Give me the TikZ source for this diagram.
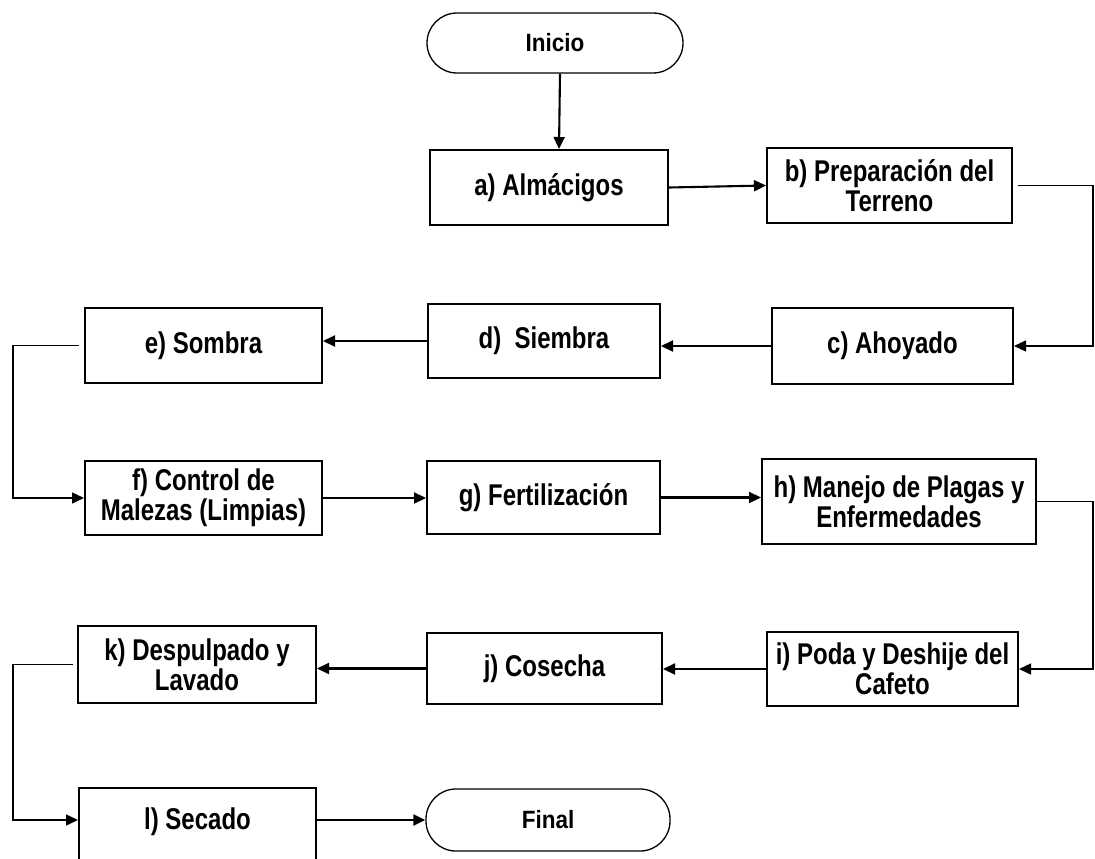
\documentclass[tikz,border=0pt]{standalone}
\usepackage{fontspec}
\setmainfont{Liberation Sans}
\newfontfamily\boxfont[FakeStretch=0.8]{Liberation Sans}
\newfontfamily\termfont[FakeStretch=0.9]{Liberation Sans}
\usetikzlibrary{arrows.meta}
\begin{document}
\begin{tikzpicture}[x=1pt,y=-1pt,
  lbl/.style={font=\boxfont\fontsize{30}{30}\selectfont\bfseries, align=center, inner sep=0pt},
  box/.style={lbl, draw, line width=2pt},
  term/.style={font=\termfont\fontsize{25}{30}\selectfont\bfseries, align=center, inner sep=0pt, draw, line width=1.3pt, rounded corners=30pt},
  conn/.style={line width=2.1pt, -{Triangle[length=12pt,width=11pt]}},
  elbow/.style={line width=1.5pt, -{Triangle[length=12pt,width=11pt]}}]
\useasboundingbox (0,0) rectangle (1095,859);
\clip (0,0) rectangle (1095,859);
\node[term, minimum width=256pt, minimum height=60pt] (start) at (555,43) {Inicio};
\node[box, minimum width=238pt, minimum height=75pt] (a) at (549,187.5) {a) Almácigos};
\node[box, minimum width=245pt, minimum height=75pt] (b) at (889.5,185.5) {b) Preparación del\\Terreno};
\node[box, minimum width=241pt, minimum height=76pt] (c) at (892.5,346) {c) Ahoyado};
\node[box, minimum width=232pt, minimum height=74pt] (d) at (544,341) {d)~ Siembra};
\node[box, minimum width=237pt, minimum height=75pt] (e) at (203.5,345.5) {e) Sombra};
\node[box, minimum width=237pt, minimum height=74pt] (f) at (203.5,498) {f) Control de\\Malezas (Limpias)};
\node[box, minimum width=233pt, minimum height=73pt] (g) at (543.5,497.5) {g) Fertilización};
\node[box, minimum width=274pt, minimum height=85pt] (h) at (899,501.5) {h) Manejo de Plagas y\\Enfermedades};
\node[box, minimum width=251pt, minimum height=74pt] (i) at (892.5,669) {i) Poda y Deshije del\\Cafeto};
\node[box, minimum width=235pt, minimum height=71pt] (j) at (544.5,668.5) {j) Cosecha};
\node[box, minimum width=238pt, minimum height=77pt] (k) at (197,664.5) {k) Despulpado y\\Lavado};
\node[box, minimum width=237pt, minimum height=82pt] (l) at (197.5,829) {};
\node[lbl] (ltext) at (197.5,822) {l) Secado};
\node[term, minimum width=244pt, minimum height=62pt] (fin) at (548,820) {Final};
\coordinate (R1) at (1093,0);
\coordinate (L1) at (13,0);
\draw[conn] ([xshift=5pt]start.south) -- ([xshift=10pt]a.north);
\draw[conn] (a.east) -- (b.west);
\draw[elbow, shorten <=5pt] (b.east) -- (b.east -| R1) -- (R1 |- c.east) -- (c.east);
\draw[conn] (c.west) -- (c.west -| d.east);
\draw[conn] (d.west) -- (d.west -| e.east);
\draw[elbow, shorten <=5pt] (e.west) -- (e.west -| L1) -- (L1 |- f.west) -- (f.west);
\draw[conn] (f.east) -- (f.east -| g.west);
\draw[conn] (g.east) -- (g.east -| h.west);
\draw[elbow] (h.east) -- (h.east -| R1) -- (R1 |- i.east) -- (i.east);
\draw[conn] (i.west) -- (i.west -| j.east);
\draw[conn] (j.west) -- (j.west -| k.east);
\draw[elbow, shorten <=4pt] (k.west) -- (k.west -| L1) -- (L1 |- fin.west) -- (l.west |- fin.west);
\draw[conn] (l.east |- fin.west) -- (fin.west);
\end{tikzpicture}
\end{document}
